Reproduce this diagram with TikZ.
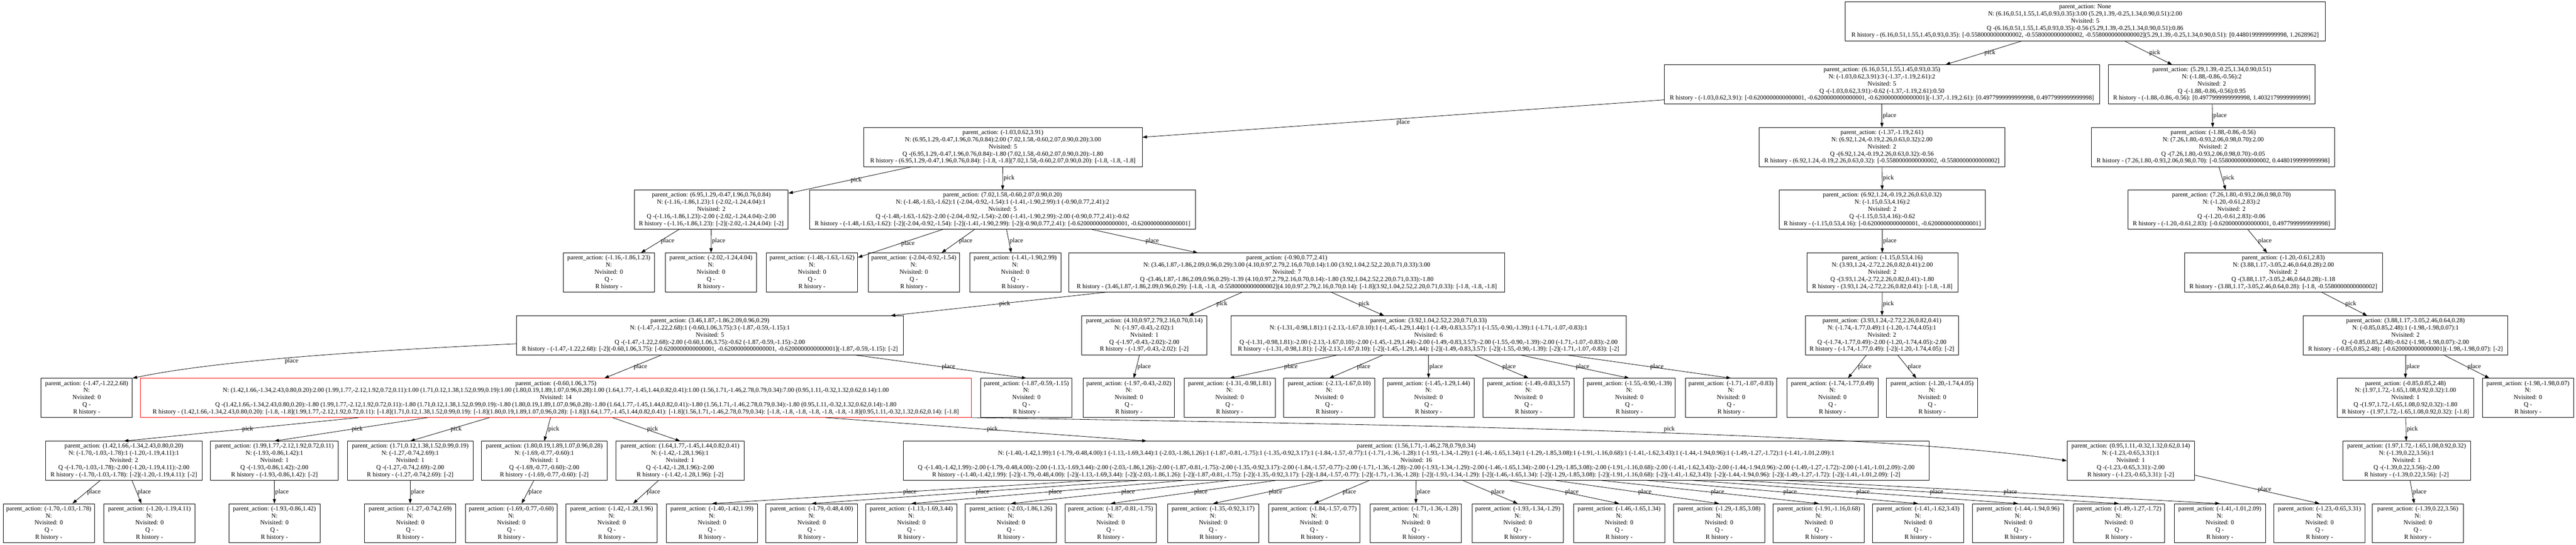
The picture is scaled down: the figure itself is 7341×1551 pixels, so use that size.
\documentclass[tikz,border=0pt]{standalone}
\usepackage{fontspec}
\setmainfont{Liberation Serif}
\usetikzlibrary{arrows.meta}

\newcommand{\leaf}[1]{parent\_action: #1\\N:\\Nvisited: 0\\Q -\\R history -}
\newcommand{\one}[2]{parent\_action: #1\\N: #2:1\\Nvisited: 1\\Q -#2:-2.00\\R history - #2: [-2]}

\begin{document}
\begin{tikzpicture}
[x=1pt,y=-1pt
,box/.style={draw,line width=1.2pt,align=center,font=\fontsize{18}{20.25}\selectfont,minimum height=111pt,inner xsep=8pt,inner ysep=2pt}
,leafbox/.style={box,minimum width=260pt}
,hot/.style={box,draw=red}
,lbl/.style={right,font=\fontsize{18}{20}\selectfont,inner sep=2pt}
,>={Triangle[length=13pt,width=9pt]}
,every path/.style={line width=1.2pt}
]
\useasboundingbox (0,0) rectangle (7341,1551);

\node[box,minimum width=1368pt] (root) at (5942,61) {parent\_action: None\\N: (6.16,0.51,1.55,1.45,0.93,0.35):3.00 (5.29,1.39,-0.25,1.34,0.90,0.51):2.00\\Nvisited: 5\\Q -(6.16,0.51,1.55,1.45,0.93,0.35):-0.56 (5.29,1.39,-0.25,1.34,0.90,0.51):0.86\\R history - (6.16,0.51,1.55,1.45,0.93,0.35): [-0.5580000000000002, -0.5580000000000002, -0.5580000000000002](5.29,1.39,-0.25,1.34,0.90,0.51): [0.4480199999999998, 1.2628962]};

\node[box,minimum width=1241pt] (n616) at (5363,240) {parent\_action: (6.16,0.51,1.55,1.45,0.93,0.35)\\N: (-1.03,0.62,3.91):3 (-1.37,-1.19,2.61):2\\Nvisited: 5\\Q -(-1.03,0.62,3.91):-0.62 (-1.37,-1.19,2.61):0.50\\R history - (-1.03,0.62,3.91): [-0.6200000000000001, -0.6200000000000001, -0.6200000000000001](-1.37,-1.19,2.61): [0.4977999999999998, 0.4977999999999998]};
\node[box,minimum width=588pt] (n529) at (6303,240) {parent\_action: (5.29,1.39,-0.25,1.34,0.90,0.51)\\N: (-1.88,-0.86,-0.56):2\\Nvisited: 2\\Q -(-1.88,-0.86,-0.56):0.95\\R history - (-1.88,-0.86,-0.56): [0.4977999999999998, 1.4032179999999999]};

\node[box,minimum width=794pt] (n103) at (2858,419) {parent\_action: (-1.03,0.62,3.91)\\N: (6.95,1.29,-0.47,1.96,0.76,0.84):2.00 (7.02,1.58,-0.60,2.07,0.90,0.20):3.00\\Nvisited: 5\\Q -(6.95,1.29,-0.47,1.96,0.76,0.84):-1.80 (7.02,1.58,-0.60,2.07,0.90,0.20):-1.80\\R history - (6.95,1.29,-0.47,1.96,0.76,0.84): [-1.8, -1.8](7.02,1.58,-0.60,2.07,0.90,0.20): [-1.8, -1.8, -1.8]};
\node[box,minimum width=700pt] (n137) at (5363,419) {parent\_action: (-1.37,-1.19,2.61)\\N: (6.92,1.24,-0.19,2.26,0.63,0.32):2.00\\Nvisited: 2\\Q -(6.92,1.24,-0.19,2.26,0.63,0.32):-0.56\\R history - (6.92,1.24,-0.19,2.26,0.63,0.32): [-0.5580000000000002, -0.5580000000000002]};
\node[box,minimum width=693pt] (n188) at (6307,419) {parent\_action: (-1.88,-0.86,-0.56)\\N: (7.26,1.80,-0.93,2.06,0.98,0.70):2.00\\Nvisited: 2\\Q -(7.26,1.80,-0.93,2.06,0.98,0.70):-0.05\\R history - (7.26,1.80,-0.93,2.06,0.98,0.70): [-0.5580000000000002, 0.4480199999999998]};

\node[box,minimum width=438pt] (n695) at (2027,597) {parent\_action: (6.95,1.29,-0.47,1.96,0.76,0.84)\\N: (-1.16,-1.86,1.23):1 (-2.02,-1.24,4.04):1\\Nvisited: 2\\Q -(-1.16,-1.86,1.23):-2.00 (-2.02,-1.24,4.04):-2.00\\R history - (-1.16,-1.86,1.23): [-2](-2.02,-1.24,4.04): [-2]};
\node[box,minimum width=1100pt] (n702) at (2857,597) {parent\_action: (7.02,1.58,-0.60,2.07,0.90,0.20)\\N: (-1.48,-1.63,-1.62):1 (-2.04,-0.92,-1.54):1 (-1.41,-1.90,2.99):1 (-0.90,0.77,2.41):2\\Nvisited: 5\\Q -(-1.48,-1.63,-1.62):-2.00 (-2.04,-0.92,-1.54):-2.00 (-1.41,-1.90,2.99):-2.00 (-0.90,0.77,2.41):-0.62\\R history - (-1.48,-1.63,-1.62): [-2](-2.04,-0.92,-1.54): [-2](-1.41,-1.90,2.99): [-2](-0.90,0.77,2.41): [-0.6200000000000001, -0.6200000000000001]};
\node[box,minimum width=588pt] (n692) at (5364,597) {parent\_action: (6.92,1.24,-0.19,2.26,0.63,0.32)\\N: (-1.15,0.53,4.16):2\\Nvisited: 2\\Q -(-1.15,0.53,4.16):-0.62\\R history - (-1.15,0.53,4.16): [-0.6200000000000001, -0.6200000000000001]};
\node[box,minimum width=590pt] (n726) at (6359,597) {parent\_action: (7.26,1.80,-0.93,2.06,0.98,0.70)\\N: (-1.20,-0.61,2.83):2\\Nvisited: 2\\Q -(-1.20,-0.61,2.83):-0.06\\R history - (-1.20,-0.61,2.83): [-0.6200000000000001, 0.4977999999999998]};

\node[leafbox] (l116) at (1735,776) {\leaf{(-1.16,-1.86,1.23)}};
\node[leafbox] (l202) at (2026,776) {\leaf{(-2.02,-1.24,4.04)}};
\node[leafbox] (l148) at (2314,776) {\leaf{(-1.48,-1.63,-1.62)}};
\node[leafbox] (l204) at (2604,776) {\leaf{(-2.04,-0.92,-1.54)}};
\node[leafbox] (l141) at (2893,776) {\leaf{(-1.41,-1.90,2.99)}};
\node[box,minimum width=1242pt] (n090) at (3667,776) {parent\_action: (-0.90,0.77,2.41)\\N: (3.46,1.87,-1.86,2.09,0.96,0.29):3.00 (4.10,0.97,2.79,2.16,0.70,0.14):1.00 (3.92,1.04,2.52,2.20,0.71,0.33):3.00\\Nvisited: 7\\Q -(3.46,1.87,-1.86,2.09,0.96,0.29):-1.39 (4.10,0.97,2.79,2.16,0.70,0.14):-1.80 (3.92,1.04,2.52,2.20,0.71,0.33):-1.80\\R history - (3.46,1.87,-1.86,2.09,0.96,0.29): [-1.8, -1.8, -0.5580000000000002](4.10,0.97,2.79,2.16,0.70,0.14): [-1.8](3.92,1.04,2.52,2.20,0.71,0.33): [-1.8, -1.8, -1.8]};
\node[box,minimum width=430pt] (n115) at (5364,776) {parent\_action: (-1.15,0.53,4.16)\\N: (3.93,1.24,-2.72,2.26,0.82,0.41):2.00\\Nvisited: 2\\Q -(3.93,1.24,-2.72,2.26,0.82,0.41):-1.80\\R history - (3.93,1.24,-2.72,2.26,0.82,0.41): [-1.8, -1.8]};
\node[box,minimum width=564pt] (n120) at (6507,776) {parent\_action: (-1.20,-0.61,2.83)\\N: (3.88,1.17,-3.05,2.46,0.64,0.28):2.00\\Nvisited: 2\\Q -(3.88,1.17,-3.05,2.46,0.64,0.28):-1.18\\R history - (3.88,1.17,-3.05,2.46,0.64,0.28): [-1.8, -0.5580000000000002]};

\node[box,minimum width=1103pt] (n346) at (2023,955) {parent\_action: (3.46,1.87,-1.86,2.09,0.96,0.29)\\N: (-1.47,-1.22,2.68):1 (-0.60,1.06,3.75):3 (-1.87,-0.59,-1.15):1\\Nvisited: 5\\Q -(-1.47,-1.22,2.68):-2.00 (-0.60,1.06,3.75):-0.62 (-1.87,-0.59,-1.15):-2.00\\R history - (-1.47,-1.22,2.68): [-2](-0.60,1.06,3.75): [-0.6200000000000001, -0.6200000000000001, -0.6200000000000001](-1.87,-0.59,-1.15): [-2]};
\node[box,minimum width=356pt] (n410) at (3261,955) {\one{(4.10,0.97,2.79,2.16,0.70,0.14)}{(-1.97,-0.43,-2.02)}};
\node[box,minimum width=1126pt] (n392) at (4071,955) {parent\_action: (3.92,1.04,2.52,2.20,0.71,0.33)\\N: (-1.31,-0.98,1.81):1 (-2.13,-1.67,0.10):1 (-1.45,-1.29,1.44):1 (-1.49,-0.83,3.57):1 (-1.55,-0.90,-1.39):1 (-1.71,-1.07,-0.83):1\\Nvisited: 6\\Q -(-1.31,-0.98,1.81):-2.00 (-2.13,-1.67,0.10):-2.00 (-1.45,-1.29,1.44):-2.00 (-1.49,-0.83,3.57):-2.00 (-1.55,-0.90,-1.39):-2.00 (-1.71,-1.07,-0.83):-2.00\\R history - (-1.31,-0.98,1.81): [-2](-2.13,-1.67,0.10): [-2](-1.45,-1.29,1.44): [-2](-1.49,-0.83,3.57): [-2](-1.55,-0.90,-1.39): [-2](-1.71,-1.07,-0.83): [-2]};
\node[box,minimum width=437pt] (n393) at (5363,955) {parent\_action: (3.93,1.24,-2.72,2.26,0.82,0.41)\\N: (-1.74,-1.77,0.49):1 (-1.20,-1.74,4.05):1\\Nvisited: 2\\Q -(-1.74,-1.77,0.49):-2.00 (-1.20,-1.74,4.05):-2.00\\R history - (-1.74,-1.77,0.49): [-2](-1.20,-1.74,4.05): [-2]};
\node[box,minimum width=582pt] (n388) at (6855,955) {parent\_action: (3.88,1.17,-3.05,2.46,0.64,0.28)\\N: (-0.85,0.85,2.48):1 (-1.98,-1.98,0.07):1\\Nvisited: 2\\Q -(-0.85,0.85,2.48):-0.62 (-1.98,-1.98,0.07):-2.00\\R history - (-0.85,0.85,2.48): [-0.6200000000000001](-1.98,-1.98,0.07): [-2]};

\node[leafbox] (l147) at (247,1133) {\leaf{(-1.47,-1.22,2.68)}};
\node[hot,minimum width=2368pt] (n060) at (1584,1133) {parent\_action: (-0.60,1.06,3.75)\\N: (1.42,1.66,-1.34,2.43,0.80,0.20):2.00 (1.99,1.77,-2.12,1.92,0.72,0.11):1.00 (1.71,0.12,1.38,1.52,0.99,0.19):1.00 (1.80,0.19,1.89,1.07,0.96,0.28):1.00 (1.64,1.77,-1.45,1.44,0.82,0.41):1.00 (1.56,1.71,-1.46,2.78,0.79,0.34):7.00 (0.95,1.11,-0.32,1.32,0.62,0.14):1.00\\Nvisited: 14\\Q -(1.42,1.66,-1.34,2.43,0.80,0.20):-1.80 (1.99,1.77,-2.12,1.92,0.72,0.11):-1.80 (1.71,0.12,1.38,1.52,0.99,0.19):-1.80 (1.80,0.19,1.89,1.07,0.96,0.28):-1.80 (1.64,1.77,-1.45,1.44,0.82,0.41):-1.80 (1.56,1.71,-1.46,2.78,0.79,0.34):-1.80 (0.95,1.11,-0.32,1.32,0.62,0.14):-1.80\\R history - (1.42,1.66,-1.34,2.43,0.80,0.20): [-1.8, -1.8](1.99,1.77,-2.12,1.92,0.72,0.11): [-1.8](1.71,0.12,1.38,1.52,0.99,0.19): [-1.8](1.80,0.19,1.89,1.07,0.96,0.28): [-1.8](1.64,1.77,-1.45,1.44,0.82,0.41): [-1.8](1.56,1.71,-1.46,2.78,0.79,0.34): [-1.8, -1.8, -1.8, -1.8, -1.8, -1.8, -1.8](0.95,1.11,-0.32,1.32,0.62,0.14): [-1.8]};
\node[leafbox] (l187) at (2925,1133) {\leaf{(-1.87,-0.59,-1.15)}};
\node[leafbox] (l197) at (3217,1133) {\leaf{(-1.97,-0.43,-2.02)}};
\node[leafbox] (l131) at (3504,1133) {\leaf{(-1.31,-0.98,1.81)}};
\node[leafbox] (l213) at (3788,1133) {\leaf{(-2.13,-1.67,0.10)}};
\node[leafbox] (l145) at (4071,1133) {\leaf{(-1.45,-1.29,1.44)}};
\node[leafbox] (l149) at (4356,1133) {\leaf{(-1.49,-0.83,3.57)}};
\node[leafbox] (l155) at (4643,1133) {\leaf{(-1.55,-0.90,-1.39)}};
\node[leafbox] (l171) at (4933,1133) {\leaf{(-1.71,-1.07,-0.83)}};
\node[leafbox] (l174) at (5222,1133) {\leaf{(-1.74,-1.77,0.49)}};
\node[leafbox] (l120b) at (5506,1133) {\leaf{(-1.20,-1.74,4.05)}};
\node[box,minimum width=390pt] (n085) at (6855,1133) {parent\_action: (-0.85,0.85,2.48)\\N: (1.97,1.72,-1.65,1.08,0.92,0.32):1.00\\Nvisited: 1\\Q -(1.97,1.72,-1.65,1.08,0.92,0.32):-1.80\\R history - (1.97,1.72,-1.65,1.08,0.92,0.32): [-1.8]};
\node[leafbox] (l198) at (7204,1133) {\leaf{(-1.98,-1.98,0.07)}};

\node[box,minimum width=445pt] (n142) at (353,1312) {parent\_action: (1.42,1.66,-1.34,2.43,0.80,0.20)\\N: (-1.70,-1.03,-1.78):1 (-1.20,-1.19,4.11):1\\Nvisited: 2\\Q -(-1.70,-1.03,-1.78):-2.00 (-1.20,-1.19,4.11):-2.00\\R history - (-1.70,-1.03,-1.78): [-2](-1.20,-1.19,4.11): [-2]};
\node[box,minimum width=364pt] (n199) at (782,1312) {\one{(1.99,1.77,-2.12,1.92,0.72,0.11)}{(-1.93,-0.86,1.42)}};
\node[box,minimum width=359pt] (n171) at (1169,1312) {\one{(1.71,0.12,1.38,1.52,0.99,0.19)}{(-1.27,-0.74,2.69)}};
\node[box,minimum width=359pt] (n180) at (1551,1312) {\one{(1.80,0.19,1.89,1.07,0.96,0.28)}{(-1.69,-0.77,-0.60)}};
\node[box,minimum width=366pt] (n164) at (1938,1312) {\one{(1.64,1.77,-1.45,1.44,0.82,0.41)}{(-1.42,-1.28,1.96)}};
\node[box,minimum width=2922pt] (n156) at (4036,1312) {parent\_action: (1.56,1.71,-1.46,2.78,0.79,0.34)\\N: (-1.40,-1.42,1.99):1 (-1.79,-0.48,4.00):1 (-1.13,-1.69,3.44):1 (-2.03,-1.86,1.26):1 (-1.87,-0.81,-1.75):1 (-1.35,-0.92,3.17):1 (-1.84,-1.57,-0.77):1 (-1.71,-1.36,-1.28):1 (-1.93,-1.34,-1.29):1 (-1.46,-1.65,1.34):1 (-1.29,-1.85,3.08):1 (-1.91,-1.16,0.68):1 (-1.41,-1.62,3.43):1 (-1.44,-1.94,0.96):1 (-1.49,-1.27,-1.72):1 (-1.41,-1.01,2.09):1\\Nvisited: 16\\Q -(-1.40,-1.42,1.99):-2.00 (-1.79,-0.48,4.00):-2.00 (-1.13,-1.69,3.44):-2.00 (-2.03,-1.86,1.26):-2.00 (-1.87,-0.81,-1.75):-2.00 (-1.35,-0.92,3.17):-2.00 (-1.84,-1.57,-0.77):-2.00 (-1.71,-1.36,-1.28):-2.00 (-1.93,-1.34,-1.29):-2.00 (-1.46,-1.65,1.34):-2.00 (-1.29,-1.85,3.08):-2.00 (-1.91,-1.16,0.68):-2.00 (-1.41,-1.62,3.43):-2.00 (-1.44,-1.94,0.96):-2.00 (-1.49,-1.27,-1.72):-2.00 (-1.41,-1.01,2.09):-2.00\\R history - (-1.40,-1.42,1.99): [-2](-1.79,-0.48,4.00): [-2](-1.13,-1.69,3.44): [-2](-2.03,-1.86,1.26): [-2](-1.87,-0.81,-1.75): [-2](-1.35,-0.92,3.17): [-2](-1.84,-1.57,-0.77): [-2](-1.71,-1.36,-1.28): [-2](-1.93,-1.34,-1.29): [-2](-1.46,-1.65,1.34): [-2](-1.29,-1.85,3.08): [-2](-1.91,-1.16,0.68): [-2](-1.41,-1.62,3.43): [-2](-1.44,-1.94,0.96): [-2](-1.49,-1.27,-1.72): [-2](-1.41,-1.01,2.09): [-2]};
\node[box,minimum width=363pt] (n095) at (6072,1312) {\one{(0.95,1.11,-0.32,1.32,0.62,0.14)}{(-1.23,-0.65,3.31)}};
\node[box,minimum width=364pt] (n197) at (6858,1312) {\one{(1.97,1.72,-1.65,1.08,0.92,0.32)}{(-1.39,0.22,3.56)}};

\node[leafbox] (l170) at (139,1490) {\leaf{(-1.70,-1.03,-1.78)}};
\node[leafbox] (l120c) at (426,1490) {\leaf{(-1.20,-1.19,4.11)}};
\node[leafbox] (l193) at (782,1490) {\leaf{(-1.93,-0.86,1.42)}};
\node[leafbox] (l127) at (1169,1490) {\leaf{(-1.27,-0.74,2.69)}};
\node[leafbox] (l169) at (1457,1490) {\leaf{(-1.69,-0.77,-0.60)}};
\node[leafbox] (l142) at (1743,1490) {\leaf{(-1.42,-1.28,1.96)}};
\node[leafbox] (m140) at (2029,1490) {\leaf{(-1.40,-1.42,1.99)}};
\node[leafbox] (m179) at (2313,1490) {\leaf{(-1.79,-0.48,4.00)}};
\node[leafbox] (m113) at (2597,1490) {\leaf{(-1.13,-1.69,3.44)}};
\node[leafbox] (m203) at (2881,1490) {\leaf{(-2.03,-1.86,1.26)}};
\node[leafbox] (m187) at (3165,1490) {\leaf{(-1.87,-0.81,-1.75)}};
\node[leafbox] (m135) at (3457,1490) {\leaf{(-1.35,-0.92,3.17)}};
\node[leafbox] (m184) at (3745,1490) {\leaf{(-1.84,-1.57,-0.77)}};
\node[leafbox] (m171) at (4035,1490) {\leaf{(-1.71,-1.36,-1.28)}};
\node[leafbox] (m193) at (4325,1490) {\leaf{(-1.93,-1.34,-1.29)}};
\node[leafbox] (m146) at (4614,1490) {\leaf{(-1.46,-1.65,1.34)}};
\node[leafbox] (m129) at (4899,1490) {\leaf{(-1.29,-1.85,3.08)}};
\node[leafbox] (m191) at (5183,1490) {\leaf{(-1.91,-1.16,0.68)}};
\node[leafbox] (m141) at (5466,1490) {\leaf{(-1.41,-1.62,3.43)}};
\node[leafbox] (m144) at (5751,1490) {\leaf{(-1.44,-1.94,0.96)}};
\node[leafbox] (m149) at (6038,1490) {\leaf{(-1.49,-1.27,-1.72)}};
\node[leafbox] (m141b) at (6326,1490) {\leaf{(-1.41,-1.01,2.09)}};
\node[leafbox] (l123) at (6610,1490) {\leaf{(-1.23,-0.65,3.31)}};
\node[leafbox] (l139) at (6890,1490) {\leaf{(-1.39,0.22,3.56)}};

\draw [->] (root) -- node[lbl]{pick} (n616);
\draw [->] (root) -- node[lbl]{pick} (n529);
\draw [->] (n616) -- node[lbl,below]{place} (n103);
\draw [->] (n616) -- node[lbl]{place} (n137);
\draw [->] (n529) -- node[lbl]{place} (n188);
\draw [->] (n103) -- node[lbl]{pick} (n695);
\draw [->] (n103) -- node[lbl]{pick} (n702);
\draw [->] (n137) -- node[lbl]{pick} (n692);
\draw [->] (n188) -- node[lbl]{pick} (n726);
\draw [->] (n695) -- node[lbl]{place} (l116);
\draw [->] (n695) -- node[lbl]{place} (l202);
\draw [->] (n702) -- node[lbl]{place} (l148);
\draw [->] (n702) -- node[lbl]{place} (l204);
\draw [->] (n702) -- node[lbl]{place} (l141);
\draw [->] (n702) -- node[lbl]{place} (n090);
\draw [->] (n692) -- node[lbl]{place} (n115);
\draw [->] (n726) -- node[lbl]{place} (n120);
\draw [->] (n090) -- node[lbl]{pick} (n346);
\draw [->] (n090) -- node[lbl]{pick} (n410);
\draw [->] (n090) -- node[lbl]{pick} (n392);
\draw [->] (n115) -- node[lbl]{pick} (n393);
\draw [->] (n120) -- node[lbl]{pick} (n388);
\draw [->] ([yshift=-24pt]n346.west) .. controls (1000,1000) and (600,1030) .. node[lbl,below]{place} (l147.north east);
\draw [->] (n346) -- node[lbl]{place} (n060);
\draw [->] (n346) -- node[lbl]{place} (l187.north);
\draw [->] (n410) -- node[lbl]{place} (l197);
\draw [->] (n392) -- node[lbl]{place} (l131.north);
\draw [->] (n392) -- node[lbl]{place} (l213.north);
\draw [->] (n392) -- node[lbl]{place} (l145.north);
\draw [->] (n392) -- node[lbl]{place} (l149.north);
\draw [->] (n392) -- node[lbl]{place} (l155.north);
\draw [->] (n392) -- node[lbl]{place} (l171.north);
\draw [->] (n393) -- node[lbl]{place} (l174);
\draw [->] (n393) -- node[lbl]{place} (l120b);
\draw [->] (n388) -- node[lbl]{place} (n085);
\draw [->] (n388) -- node[lbl]{place} (l198);
\draw [->] (n060) -- node[lbl]{pick} (n142.north);
\draw [->] (n060) -- node[lbl]{pick} (n199.north);
\draw [->] (n060) -- node[lbl]{pick} (n171.north);
\draw [->] (n060) -- node[lbl]{pick} (n180.north);
\draw [->] (n060) -- node[lbl]{pick} (n164.north);
\draw [->] (n060) -- node[lbl]{pick} (n156);
\draw [->] (n060.south east) .. controls (4400,1215) and (5400,1240) .. node[lbl,above]{pick} (n095.west);
\draw [->] (n085) -- node[lbl]{pick} (n197);
\draw [->] (n142) -- node[lbl]{place} (l170);
\draw [->] (n142) -- node[lbl]{place} (l120c);
\draw [->] (n199) -- node[lbl]{place} (l193);
\draw [->] (n171) -- node[lbl]{place} (l127);
\draw [->] (n180) -- node[lbl]{place} (l169);
\draw [->] (n164) -- node[lbl]{place} (l142);
\draw [->] (n156) -- node[lbl]{place} (m140.north);
\draw [->] (n156) -- node[lbl]{place} (m179.north);
\draw [->] (n156) -- node[lbl]{place} (m113.north);
\draw [->] (n156) -- node[lbl]{place} (m203.north);
\draw [->] (n156) -- node[lbl]{place} (m187.north);
\draw [->] (n156) -- node[lbl]{place} (m135.north);
\draw [->] (n156) -- node[lbl]{place} (m184.north);
\draw [->] (n156) -- node[lbl]{place} (m171.north);
\draw [->] (n156) -- node[lbl]{place} (m193.north);
\draw [->] (n156) -- node[lbl]{place} (m146.north);
\draw [->] (n156) -- node[lbl]{place} (m129.north);
\draw [->] (n156) -- node[lbl]{place} (m191.north);
\draw [->] (n156) -- node[lbl]{place} (m141.north);
\draw [->] (n156) -- node[lbl]{place} (m144.north);
\draw [->] (n156) -- node[lbl]{place} (m149.north);
\draw [->] (n156) -- node[lbl]{place} (m141b.north);
\draw [->] (n095) -- node[lbl]{place} (l123.north);
\draw [->] (n197) -- node[lbl]{place} (l139);

\end{tikzpicture}
\end{document}
